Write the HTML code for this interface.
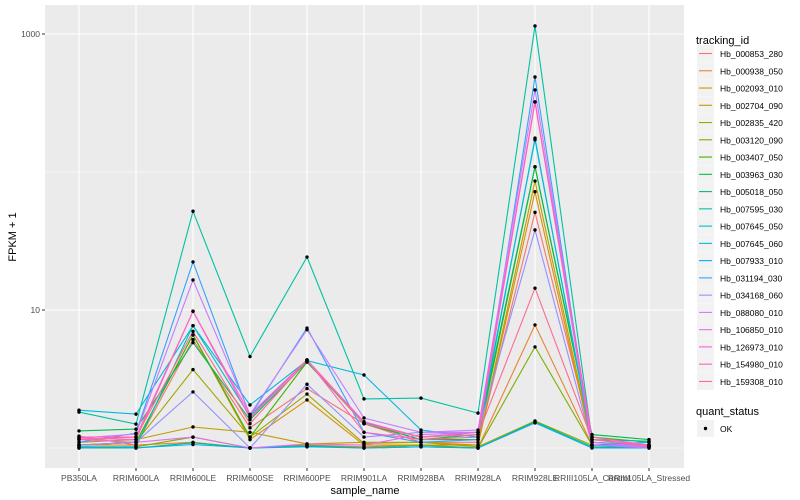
<!DOCTYPE html>
<html><head><meta charset="utf-8"><style>
body{margin:0;background:#fff;}
svg{display:block;font-family:"Liberation Sans",Arial,sans-serif;}
</style></head><body>
<svg id="chart" width="800" height="500"></svg>
<script>
const categories=["PB350LA","RRIM600LA","RRIM600LE","RRIM600SE","RRIM600PE","RRIM901LA","RRIM928BA","RRIM928LA","RRIM928LE","RRIII105LA_Control","RRIII105LA_Stressed"];
const seriesNames=["Hb_000853_280","Hb_000938_050","Hb_002093_010","Hb_002704_090","Hb_002835_420","Hb_003120_090","Hb_003407_050","Hb_003963_030","Hb_005018_050","Hb_007595_030","Hb_007645_050","Hb_007645_060","Hb_007933_010","Hb_031194_030","Hb_034168_060","Hb_088080_010","Hb_106850_010","Hb_126973_010","Hb_154980_010","Hb_159308_010"];
const seriesColors=["#F8766D","#EA8331","#D89000","#C09B00","#A3A500","#7CAE00","#39B600","#00BB4E","#00BF7D","#00C1A3","#00BFC4","#00BAE0","#00B0F6","#35A2FF","#9590FF","#C77CFF","#E76BF3","#FA62DB","#FF62BC","#FF6C91"];
const s0=[1.22,1.05,6.1,1.4,2.7,1.5,1.1,1.1,51,1.15,1.05];
const s1=[1.05,1.05,1.1,1.0,1.05,1.02,1.05,1.0,7.8,1.05,1.03];
const s2=[1.05,1.1,6.6,1.15,2.23,1.05,1.05,1.05,72,1.05,1.03];
const s3=[1.1,1.15,1.42,1.3,1.07,1.1,1.1,1.05,86,1.1,1.05];
const s4=[1.05,1.1,3.7,1.2,2.46,1.08,1.1,1.02,1.57,1.05,1.04];
const s5=[1.02,1.02,1.2,1.0,1.05,1.0,1.05,1.0,5.4,1.05,1.03];
const s6=[1.05,1.1,6.6,1.2,4.2,1.5,1.15,1.15,109,1.2,1.1];
const s7=[1.33,1.37,5.8,1.6,4.2,1.52,1.15,1.25,109,1.25,1.15];
const s8=[1.0,1.0,1.09,1.0,1.03,1.0,1.02,1.0,1.55,1.02,1.01];
const s9=[1.82,1.49,52,4.6,24.2,2.27,2.3,1.79,1143,1.15,1.12];
const s10=[1.0,1.02,7.7,1.7,4.35,1.52,1.2,1.3,171,1.1,1.05];
const s11=[1.88,1.76,7.7,2.05,4.3,3.38,1.35,1.2,176,1.05,1.1];
const s12=[1.02,1.0,1.06,1.0,1.02,1.0,1.02,1.0,1.52,1.0,1.0];
const s13=[1.1,1.28,22.3,1.7,7.4,1.3,1.1,1.15,488,1.05,1.05];
const s14=[1.05,1.1,2.55,1.0,2.9,1.2,1.3,1.3,38,1.05,1.0];
const s15=[1.18,1.26,16.5,1.75,7.2,1.65,1.3,1.35,393,1.1,1.02];
const s16=[1.15,1.1,1.2,1.0,1.07,1.05,1.25,1.3,322,1.05,1.02];
const s17=[1.18,1.15,9.8,1.75,4.35,1.55,1.2,1.3,322,1.15,1.05];
const s18=[1.2,1.2,9.8,1.65,4.35,1.3,1.15,1.2,322,1.2,1.05];
const s19=[1.15,1.2,7.0,1.5,4.3,1.5,1.2,1.25,14.4,1.15,1.03];
const seriesValues=[s0,s1,s2,s3,s4,s5,s6,s7,s8,s9,s10,s11,s12,s13,s14,s15,s16,s17,s18,s19];
const yTicks=[10,1000];
const yMinor=[1,100];

const NS="http://www.w3.org/2000/svg";
const svg=document.getElementById("chart");
function mk(tag,attrs,parent){const e=document.createElementNS(NS,tag);for(const k in attrs)e.setAttribute(k,attrs[k]);(parent||svg).appendChild(e);return e;}
const P={l:45,r:684,t:5,b:468};
function xPos(i){return 79+i*57;}
function yPos(v){return 448-138*Math.log10(v);}

const panel=mk("rect",{x:P.l,y:P.t,width:P.r-P.l,height:P.b-P.t,fill:"#EBEBEB"});


yMinor.forEach(v=>{const l=mk("line",{x1:P.l,x2:P.r,y1:yPos(v),y2:yPos(v),stroke:"#fff","stroke-width":0.6});

});
yTicks.forEach(v=>{const l=mk("line",{x1:P.l,x2:P.r,y1:yPos(v),y2:yPos(v),stroke:"#fff","stroke-width":1.1});


const tk=mk("line",{x1:P.l-3,x2:P.l,y1:yPos(v),y2:yPos(v),stroke:"#333","stroke-width":1});


const t=mk("text",{x:P.l-5,y:yPos(v)+3,"text-anchor":"end","font-size":8.5,fill:"#4D4D4D"});t.textContent=v;

});
categories.forEach((c,i)=>{const l=mk("line",{x1:xPos(i),x2:xPos(i),y1:P.t,y2:P.b,stroke:"#fff","stroke-width":1.1});


const tk=mk("line",{x1:xPos(i),x2:xPos(i),y1:P.b,y2:P.b+3,stroke:"#333","stroke-width":1});


const t=mk("text",{x:xPos(i),y:P.b+13,"text-anchor":"middle","font-size":8.5,fill:"#4D4D4D"});t.textContent=c;

});
seriesValues.forEach((vals,si)=>{const pts=vals.map((v,i)=>xPos(i).toFixed(1)+","+yPos(v).toFixed(1)).join(" ");
const pl=mk("polyline",{points:pts,fill:"none",stroke:seriesColors[si],"stroke-width":1.1});

});
seriesValues.forEach(vals=>{vals.forEach((v,i)=>{const c=mk("circle",{cx:xPos(i),cy:yPos(v),r:1.7,fill:"#000"});

});});
const xt=mk("text",{x:365,y:494,"text-anchor":"middle","font-size":11,fill:"#000"});xt.textContent="sample_name";


const yt=mk("text",{x:0,y:0,transform:"translate(16,237) rotate(-90)","text-anchor":"middle","font-size":11,fill:"#000"});yt.textContent="FPKM + 1";


const lt=mk("text",{x:696,y:44,"font-size":11,fill:"#000"});lt.textContent="tracking_id";


seriesNames.forEach((n,i)=>{const y=45+i*17.26;const g=mk("g",{});


mk("rect",{x:697,y:y,width:17,height:17,fill:"#F2F2F2"},g);
mk("line",{x1:699,x2:712,y1:y+8.5,y2:y+8.5,stroke:seriesColors[i],"stroke-width":1.1},g);
const t=mk("text",{x:720,y:y+12,"font-size":8.5,fill:"#000"},g);t.textContent=n;});
const qt=mk("text",{x:696,y:415,"font-size":11,fill:"#000"});qt.textContent="quant_status";


const qg=mk("g",{});


mk("rect",{x:697,y:420,width:17,height:17,fill:"#F2F2F2"},qg);
mk("circle",{cx:705.5,cy:428.5,r:1.7,fill:"#000"},qg);
const ok=mk("text",{x:720,y:432,"font-size":8.5,fill:"#000"},qg);ok.textContent="OK";
</script>
</body></html>
